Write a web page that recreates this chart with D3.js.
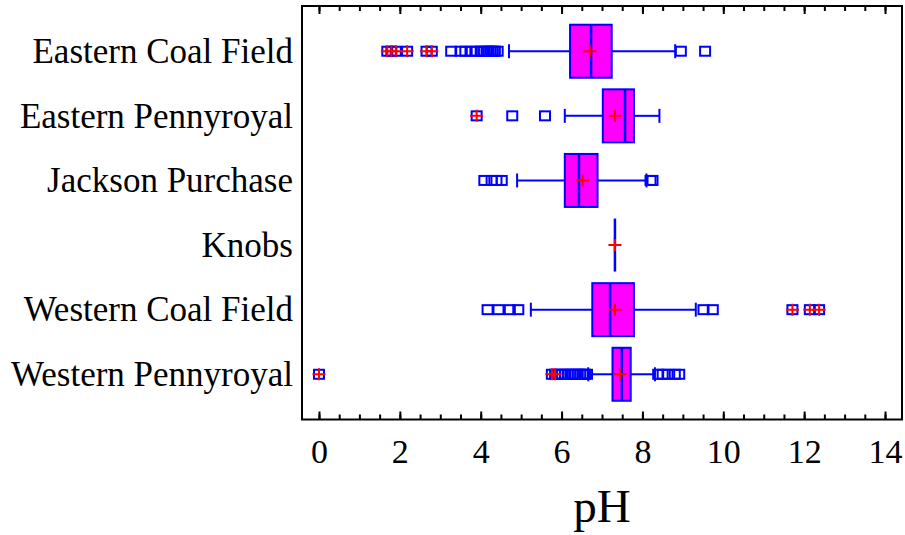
<!DOCTYPE html>
<html>
<head>
<meta charset="utf-8">
<script src="https://cdn.jsdelivr.net/npm/d3@7"></script>
<style>
  html, body { margin: 0; padding: 0; background: #fff; }
  svg { display: block; }
</style>
</head>
<body>
<div id="chart"></div>
<script>
const categories = ["Eastern Coal Field", "Eastern Pennyroyal", "Jackson Purchase", "Knobs", "Western Coal Field", "Western Pennyroyal"];
const q1Values     = [6.21, 7.02, 6.08, 7.32, 6.76, 7.26];
const medianValues = [6.73, 7.57, 6.43, 7.32, 7.20, 7.49];
const q3Values     = [7.24, 7.79, 6.89, 7.32, 7.79, 7.71];
const meanValues   = [6.70, 7.32, 6.52, 7.32, 7.32, 7.45];
const lowWhisker   = [4.70, 6.08, 4.90, 7.32, 5.24, 6.66];
const highWhisker  = [8.81, 8.42, 8.10, 7.32, 9.32, 8.31];
const outliers = [
  [3.27, 3.50, 3.62, 3.78, 3.90, 4.00, 4.08, 4.15, 4.20, 4.25, 4.30, 4.35, 4.42, 8.95, 9.55],
  [4.78, 5.59],
  [4.09, 4.27, 4.39, 4.52, 8.20, 8.25],
  [],
  [4.17, 4.44, 4.72, 4.93, 9.51, 9.74],
  [5.92, 6.00, 6.08, 6.15, 6.22, 6.28, 6.34, 6.40, 6.46, 6.52, 6.58, 6.63, 8.39, 8.50, 8.62, 8.80, 8.91]
];
const farOutliers = [
  [1.69, 1.79, 1.90, 2.18, 2.66, 2.79],
  [3.90],
  [],
  [],
  [11.71, 12.14, 12.37],
  [0.00, 5.76, 5.84]
];
const xTickValues = [0, 2, 4, 6, 8, 10, 12, 14];
const xMinorTickValues = d3.range(0, 14.01, 0.5);
const xTitle = "pH";

const W = 905, H = 535;
const frame = { left: 302, right: 902, top: 6, bottom: 419.5 };
const svg = d3.select("#chart").append("svg").attr("width", W).attr("height", H);

const x = d3.scaleLinear().domain([-0.42, 14.42]).range([frame.left, frame.right]);
const y = d3.scalePoint().domain(categories).range([frame.top, frame.bottom]).padding(0.7);

const font = "'Liberation Serif', 'Times New Roman', serif";
const blue = "#0000FF", magenta = "#FF00FF", red = "#FF0000";
const boxH = 53, capH = 14;

const data = categories.map((c, i) => ({
  cat: c, q1: q1Values[i], med: medianValues[i], q3: q3Values[i], mean: meanValues[i],
  lo: lowWhisker[i], hi: highWhisker[i], out: outliers[i], far: farOutliers[i]
}));

const g = svg.append("g");
data.forEach(d => {
  const cy = y(d.cat);
  const row = g.append("g");
  // whiskers
  row.append("line").attr("x1", x(d.lo)).attr("x2", x(d.q1)).attr("y1", cy).attr("y2", cy)
    .attr("stroke", blue).attr("stroke-width", 2);
  row.append("line").attr("x1", x(d.q3)).attr("x2", x(d.hi)).attr("y1", cy).attr("y2", cy)
    .attr("stroke", blue).attr("stroke-width", 2);
  [d.lo, d.hi].forEach(v => {
    row.append("line").attr("x1", x(v)).attr("x2", x(v)).attr("y1", cy - capH / 2).attr("y2", cy + capH / 2)
      .attr("stroke", blue).attr("stroke-width", 2);
  });
  // box
  row.append("rect").attr("x", x(d.q1)).attr("y", cy - boxH / 2)
    .attr("width", Math.max(0, x(d.q3) - x(d.q1))).attr("height", boxH)
    .attr("fill", magenta).attr("stroke", blue).attr("stroke-width", 2);
  row.append("line").attr("x1", x(d.med)).attr("x2", x(d.med)).attr("y1", cy - boxH / 2).attr("y2", cy + boxH / 2)
    .attr("stroke", blue).attr("stroke-width", 2.5);
  // outliers
  d.out.concat(d.far).forEach(v => {
    row.append("rect").attr("x", x(v) - 5).attr("y", cy - 4.5).attr("width", 10).attr("height", 9)
      .attr("fill", "none").attr("stroke", blue).attr("stroke-width", 2);
  });
  d.far.forEach(v => {
    row.append("path").attr("d", `M${x(v) - 6.5},${cy}H${x(v) + 6.5}M${x(v)},${cy - 6}V${cy + 6}`)
      .attr("stroke", red).attr("stroke-width", 2);
  });
  // mean
  row.append("path").attr("d", `M${x(d.mean) - 6.5},${cy}H${x(d.mean) + 6.5}M${x(d.mean)},${cy - 6}V${cy + 6}`)
    .attr("stroke", red).attr("stroke-width", 2);
});

// frame
svg.append("rect").attr("x", frame.left).attr("y", frame.top)
  .attr("width", frame.right - frame.left).attr("height", frame.bottom - frame.top)
  .attr("fill", "none").attr("stroke", "#000").attr("stroke-width", 2);

// bottom axis (ticks inward)
const bottomMinor = svg.append("g").attr("transform", `translate(0,${frame.bottom})`)
  .call(d3.axisBottom(x).tickValues(xMinorTickValues).tickSize(-5).tickFormat(""));
const bottomMajor = svg.append("g").attr("transform", `translate(0,${frame.bottom})`)
  .call(d3.axisBottom(x).tickValues(xTickValues).tickSize(-8).tickPadding(19).tickFormat(d3.format("d")));
const topMinor = svg.append("g").attr("transform", `translate(0,${frame.top})`)
  .call(d3.axisTop(x).tickValues(xMinorTickValues).tickSize(-5).tickFormat(""));
const topMajor = svg.append("g").attr("transform", `translate(0,${frame.top})`)
  .call(d3.axisTop(x).tickValues(xTickValues).tickSize(-8).tickFormat(""));
[bottomMinor, bottomMajor, topMinor, topMajor].forEach(a => {
  a.select(".domain").remove();
  a.selectAll(".tick line").attr("stroke", "#000").attr("stroke-width", 2);
});
bottomMajor.selectAll(".tick text").attr("font-family", font).attr("font-size", 34).attr("fill", "#000");

// category axis labels
const leftAxis = svg.append("g").attr("transform", `translate(${frame.left},0)`)
  .call(d3.axisLeft(y).tickSize(0).tickPadding(9));
leftAxis.select(".domain").remove();
leftAxis.selectAll(".tick text").attr("font-family", font).attr("font-size", 35).attr("fill", "#000");

// x title
svg.append("text").attr("x", (frame.left + frame.right) / 2).attr("y", 522)
  .attr("text-anchor", "middle").attr("font-family", font).attr("font-size", 47).attr("fill", "#000")
  .text(xTitle);
</script>
</body>
</html>
